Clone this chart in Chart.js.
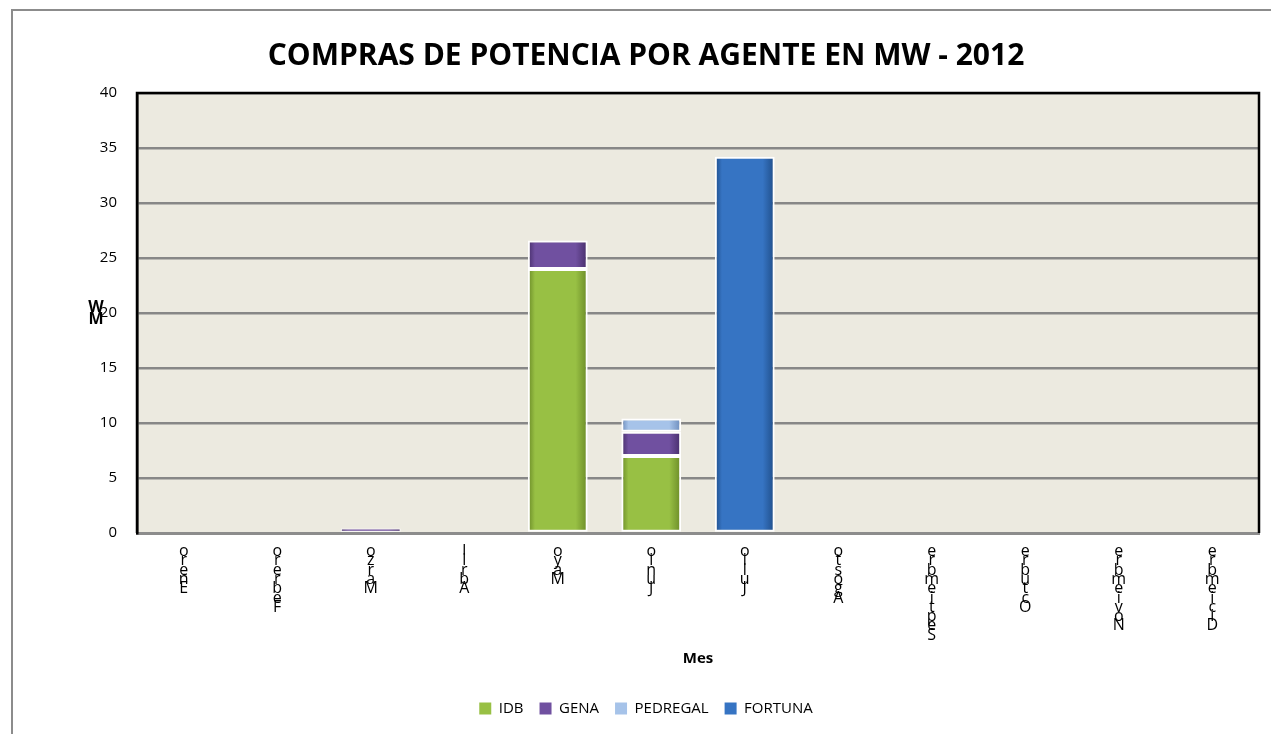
<!DOCTYPE html>
<html>
<head>
<meta charset="utf-8">
<script src="https://cdn.jsdelivr.net/npm/chart.js@4.4.1/dist/chart.umd.min.js"></script>
<style>
    html, body { margin: 0; padding: 0; background: #fff; overflow: hidden; }
    #frame { position: absolute; left: 11px; top: 9px; width: 1400px; height: 900px;
             border-left: 2px solid #8c8c8c; border-top: 2px solid #8c8c8c; }
    #wrap { position: absolute; left: 0; top: 0; width: 1271px; height: 734px; }
</style>
</head>
<body>
<div id="frame"></div>
<div id="wrap"><canvas id="chart" width="1271" height="734"></canvas></div>
<script>
// Compras de potencia por agente (MW) - 2012
const meses    = ['Enero', 'Febrero', 'Marzo', 'Abril', 'Mayo', 'Junio', 'Julio', 'Agosto', 'Septiembre', 'Octubre', 'Noviembre', 'Diciembre'];
const idb      = [0, 0, 0,   0, 24,  7,   0,    0, 0, 0, 0, 0];
const gena     = [0, 0, 0.4, 0, 2.6, 2.2, 0,    0, 0, 0, 0, 0];
const pedregal = [0, 0, 0,   0, 0,   1.2, 0,    0, 0, 0, 0, 0];
const fortuna  = [0, 0, 0,   0, 0,   0,   34.2, 0, 0, 0, 0, 0];
const yMin = 0, yMax = 40, yStep = 5;

const BAR_PCT = 0.64;
const FONT = "'Open Sans', 'Liberation Sans', sans-serif";

// [edge, middle] colours for the shaded bars
const colores = {
    IDB:      ['#6a8a27', '#98c044'],
    GENA:     ['#462d69', '#7050a0'],
    PEDREGAL: ['#6a8aba', '#a6c3e9'],
    FORTUNA:  ['#1f4d88', '#3674c3']
};

// horizontal gradient across each bar, Excel style
function barFill(edge, mid) {
    return (c) => {
        const chart = c.chart;
        const xs = chart.scales.x;
        if (!chart.chartArea || c.type !== 'data' || !xs) return mid;
        const x = xs.getPixelForValue(c.dataIndex);
        const half = (xs.width / meses.length) * BAR_PCT / 2;
        const g = chart.ctx.createLinearGradient(x - half, 0, x + half, 0);
        g.addColorStop(0, edge);
        g.addColorStop(0.12, mid);
        g.addColorStop(0.8, mid);
        g.addColorStop(1, edge);
        return g;
    };
}

function serie(label, data) {
    const [edge, mid] = colores[label];
    return {
        label: label,
        data: data,
        backgroundColor: barFill(edge, mid),
        legendColor: mid,
        borderColor: '#ffffff',
        // thin outline on tiny segments so the colour still shows
        borderWidth: (c) => (!c.raw ? 0 : (c.raw < 1 ? 1 : 2)),
        borderSkipped: false,
        barPercentage: BAR_PCT,
        categoryPercentage: 1
    };
}

// plot background + black frame on left/top/right + stacked "MW" axis title
const plotFrame = {
    id: 'plotFrame',
    beforeDraw(chart) {
        const { ctx, chartArea: a } = chart;
        ctx.save();
        ctx.fillStyle = '#eceae0';
        ctx.fillRect(a.left, a.top, a.right - a.left, a.bottom - a.top);
        ctx.restore();
    },
    afterDatasetsDraw(chart) {
        const { ctx, chartArea: a } = chart;
        ctx.save();
        ctx.strokeStyle = '#000';
        ctx.lineWidth = 2.5;
        ctx.beginPath();
        ctx.moveTo(a.left, a.bottom);
        ctx.lineTo(a.left, a.top);
        ctx.lineTo(a.right, a.top);
        ctx.lineTo(a.right, a.bottom);
        ctx.stroke();

        // y title, letters stacked bottom-up like the original
        const mid = (a.top + a.bottom) / 2;
        ctx.fillStyle = '#000';
        ctx.font = "bold 16px " + FONT;
        ctx.textAlign = 'center';
        ctx.textBaseline = 'middle';
        ctx.fillText('W', 96, mid - 6);
        ctx.fillText('M', 96, mid + 6);
        ctx.restore();
    }
};

new Chart(document.getElementById('chart'), {
    type: 'bar',
    data: {
        labels: meses,
        datasets: [
            serie('IDB', idb),
            serie('GENA', gena),
            serie('PEDREGAL', pedregal),
            serie('FORTUNA', fortuna)
        ]
    },
    options: {
        responsive: false,
        animation: false,
        layout: { padding: { left: 33, right: 12, top: 0, bottom: 8 } },
        scales: {
            x: {
                stacked: true,
                grid: { display: false, drawTicks: false },
                border: { display: true, color: '#8c8c8c', width: 3 },
                ticks: {
                    autoSkip: false,
                    maxRotation: 0,
                    minRotation: 0,
                    padding: 14,
                    color: '#000',
                    font: { family: FONT, size: 16, lineHeight: 0.58 },
                    // Excel printed the month names stacked, read from bottom to top
                    callback: function (v, i) { return meses[i].split('').reverse(); }
                },
                title: {
                    display: true,
                    text: 'Mes',
                    color: '#000',
                    font: { family: FONT, size: 15, weight: 'bold' },
                    padding: { top: 0, bottom: 17 }
                },
                afterFit(s) { s.height = 152; }
            },
            y: {
                stacked: true,
                min: yMin,
                max: yMax,
                grid: { color: '#878787', lineWidth: 2.5, drawTicks: false },
                border: { display: true, color: '#000', width: 2.5 },
                ticks: {
                    stepSize: yStep,
                    padding: 20,
                    color: '#000',
                    font: { family: FONT, size: 15 }
                },
                afterFit(s) { s.width = 104; }
            }
        },
        plugins: {
            title: {
                display: true,
                text: 'COMPRAS DE POTENCIA POR AGENTE EN MW - 2012',
                color: '#000',
                font: { family: FONT, size: 30, weight: 'bold', lineHeight: 1.2 },
                padding: { top: 38, bottom: 19 }
            },
            legend: {
                position: 'bottom',
                labels: {
                    color: '#000',
                    font: { family: FONT, size: 15 },
                    boxWidth: 12,
                    boxHeight: 12,
                    padding: 16,
                    generateLabels(chart) {
                        return chart.data.datasets.map((d, i) => ({
                            text: d.label,
                            fillStyle: d.legendColor,
                            strokeStyle: d.legendColor,
                            lineWidth: 0,
                            datasetIndex: i,
                            hidden: false
                        }));
                    }
                }
            },
            tooltip: { enabled: false }
        }
    },
    plugins: [plotFrame]
});
</script>
</body>
</html>
